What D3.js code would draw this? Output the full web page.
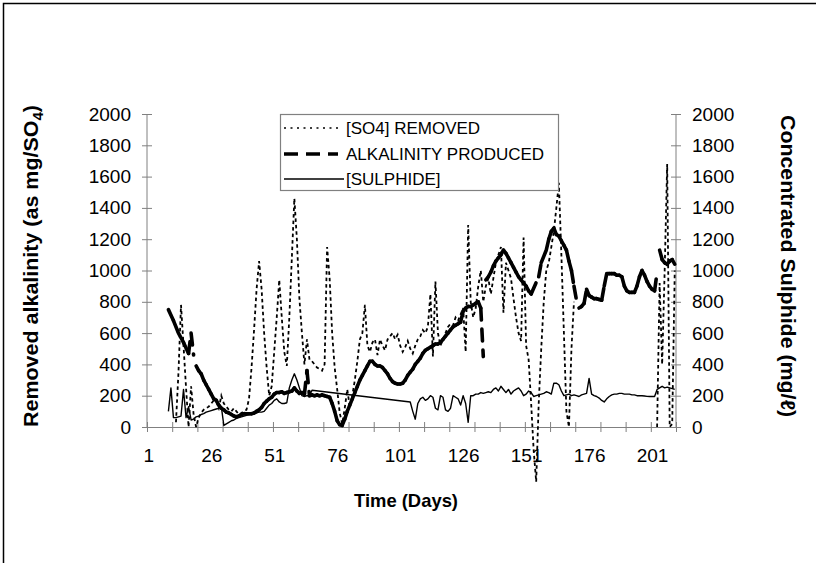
<!DOCTYPE html>
<html>
<head>
<meta charset="utf-8">
<script src="https://cdn.jsdelivr.net/npm/d3@7"></script>
<style>
  body { margin: 0; background: #fff; }
  svg { display: block; }
  text { font-family: "Liberation Sans", Arial, sans-serif; fill: #000; }
  .title { font-weight: bold; }
</style>
</head>
<body>
<svg width="816" height="563"></svg>
<script>
// data: [day, value], null = break in the line
const so4Removed = [
  [12, 30], [13, 350], [14, 780], [15, 520], [16, 250], [17, 0], [18, 260], [19, 80], [20, 0],
  [21, 60], [22, 90], [23, 110], [24, 120], [25, 130], [26, 150], [27, 170], [28, 160], [29, 120],
  [30, 200], [31, 150], [32, 130], [33, 110], [34, 100], [35, 120], [36, 100], [37, 80], [38, 90],
  [39, 100], [40, 110], [41, 180], [42, 380], [43, 620], [44, 880], [45, 1060], [46, 880], [47, 600],
  [48, 380], [49, 200], [50, 260], [51, 480], [52, 700], [53, 940], [54, 700], [55, 480], [56, 390],
  [57, 700], [58, 1080], [59, 1460], [60, 1200], [61, 820], [62, 600], [63, 400], [64, 560], [65, 430],
  [66, 420], [67, 400], [68, 380], [69, 370], [70, 360], [71, 400], [72, 1150], [73, 950], [74, 600],
  [75, 380], [76, 240], [77, 90], [78, 20], [79, 120], [80, 240], [81, 130], [82, 200], [83, 300],
  [84, 420], [85, 560], [86, 600], [87, 780], [88, 520], [89, 480], [90, 540], [91, 560], [92, 460],
  [93, 560], [94, 520], [95, 490], [96, 560], [97, 580], [98, 600], [99, 560], [100, 590], [101, 520],
  [102, 480], [103, 510], [104, 550], [105, 500], [106, 470], [107, 520], [108, 560], [109, 580],
  [110, 620], [111, 600], [112, 640], [113, 850], [114, 450], [115, 930], [116, 600], [117, 520],
  [118, 560], [119, 600], [120, 640], [121, 660], [122, 650], [123, 700], [124, 680], [125, 720],
  [126, 760], [127, 480], [128, 1290], [129, 800], [130, 700], [131, 760], [132, 900], [133, 1000],
  [134, 800], [135, 900], [136, 950], [137, 850], [138, 950], [139, 1050], [140, 1100], [141, 1150],
  [142, 730], [143, 1050], [144, 1000], [145, 950], [146, 820], [147, 700], [148, 600], [149, 550],
  [150, 1210], [151, 520], [152, 430], [153, 150], [154, -150], [155, -350], [156, 150], [157, 500],
  [158, 800], [159, 1000], [160, 1050], [161, 1150], [162, 1250], [163, 1400], [164, 1560], [165, 1100],
  [166, 600], [167, 100], [168, 0], [169, 500], [170, 800], null,
  [203, 0], [204, 920], [205, 400], [206, 1000], [207, 1680], [208, 0], [209, 20], [210, 1000]
];

const alkalinity = [
  [9, 750], [11, 680], [13, 600], [15, 540], [17, 470], [18, 600], [19, 460], null,
  [20, 390], [21, 360], [22, 340], [23, 300], [24, 270], [25, 240], [26, 210], [27, 180], [28, 170],
  [29, 140], [30, 120], [31, 110], [32, 95], [33, 90], [34, 80], [35, 70], [36, 65], [37, 70],
  [38, 80], [39, 85], [40, 85], [41, 85], [42, 85], [43, 90], [44, 100], [45, 110], [46, 125],
  [47, 150], [48, 165], [49, 180], [50, 190], [51, 210], [52, 220], [53, 220], [54, 225], [55, 215],
  [56, 220], [57, 225], [58, 230], [59, 250], [60, 230], [61, 215], [62, 220], [63, 210], [64, 360],
  [65, 200], [66, 205], [67, 200], [68, 205], [69, 200], [70, 205], [71, 200], [72, 195], [73, 190],
  [74, 150], [75, 100], [76, 40], [77, 15], [78, 10], [79, 50], [80, 100], [81, 140], [82, 180],
  [83, 220], [84, 260], [85, 300], [86, 330], [87, 360], [88, 390], [89, 420], [90, 420], [91, 400],
  [92, 390], [93, 390], [94, 380], [95, 360], [96, 340], [97, 310], [98, 290], [99, 280], [100, 275],
  [101, 275], [102, 280], [103, 300], [104, 330], [105, 350], [106, 370], [107, 400], [108, 420],
  [109, 440], [110, 470], [111, 490], [112, 500], [113, 510], [114, 520], [115, 530], [116, 530],
  [117, 540], [118, 560], [119, 580], [120, 600], [121, 620], [122, 640], [123, 650], [124, 660],
  [125, 670], [126, 740], [127, 760], [128, 770], [129, 770], [130, 780], [131, 790], [132, 800],
  [133, 760], [134, 450], null,
  [135, 940], [136, 960], [137, 990], [138, 1030], [139, 1060], [140, 1080], [141, 1100], [142, 1130],
  [143, 1110], [144, 1080], [145, 1050], [146, 1020], [147, 990], [148, 960], [149, 940], [150, 920],
  [151, 900], [152, 870], [153, 850], [156, 960], [157, 1050], [159, 1130], [160, 1200], [161, 1250],
  [162, 1270], [163, 1230], [164, 1220], [165, 1190], [166, 1160], [167, 1130], [168, 1060],
  [169, 1000], [170, 900], [171, 810], null,
  [172, 760], [173, 770], [174, 790], [175, 880], [176, 840], [177, 830], [178, 820], [179, 820],
  [180, 815], [181, 810], [182, 900], [183, 980], [184, 980], [185, 980], [186, 980], [187, 970],
  [188, 970], [189, 960], [190, 900], [191, 870], [192, 860], [193, 860], [194, 860], [195, 900],
  [196, 960], [197, 1000], [198, 970], [199, 930], [200, 900], [201, 880], [202, 870], [203, 990], null,
  [204, 1130], [205, 1070], [206, 1050], [207, 1040], [208, 1060], [209, 1070], [210, 1040]
];

const sulphide = [
  [9, 100], [10, 250], [11, 60], [12, 60], [13, 65], [14, 70], [15, 240], [16, 60], [17, 130],
  [18, 45], [19, 50], [20, 65], [21, 70], [22, 80], [23, 85], [24, 95], [25, 100], [26, 105],
  [27, 110], [28, 115], [29, 120], [30, 130], [31, 10], [32, 20], [33, 30], [34, 40], [35, 45],
  [36, 55], [37, 60], [38, 65], [39, 70], [40, 75], [41, 80], [42, 80], [43, 85], [44, 90], [45, 95],
  [46, 95], [47, 100], [48, 120], [49, 140], [50, 150], [51, 170], [52, 180], [53, 160], [54, 150],
  [55, 150], [56, 155], [57, 250], [58, 300], [59, 340], [60, 300], [61, 250], [62, 200], [63, 195],
  [64, 200], [65, 200], [66, 235], [105, 160], [106, 100], [107, 50], [108, 150], [109, 180],
  [110, 190], [111, 170], [112, 180], [113, 200], [114, 190], [115, 120], [116, 110], [117, 200],
  [118, 190], [119, 110], [120, 100], [121, 120], [122, 200], [123, 190], [124, 180], [125, 140],
  [126, 200], [127, 150], [128, 30], [129, 200], [130, 200], [131, 210], [132, 210], [133, 220],
  [134, 215], [135, 220], [136, 225], [137, 220], [138, 240], [139, 250], [140, 230], [141, 260],
  [142, 240], [143, 220], [144, 240], [145, 210], [146, 230], [147, 240], [148, 250], [149, 230],
  [150, 200], [151, 210], [152, 230], [153, 220], [154, 195], [155, 200], [156, 205], [157, 210],
  [158, 215], [159, 225], [160, 220], [161, 210], [162, 280], [163, 280], [164, 270], [165, 230],
  [166, 200], [167, 205], [168, 210], [169, 200], [170, 205], [171, 200], [172, 195], [173, 205],
  [174, 210], [175, 215], [176, 310], [177, 210], [178, 200], [179, 195], [180, 185], [181, 170],
  [182, 160], [183, 180], [184, 195], [185, 205], [186, 210], [187, 210], [188, 215], [189, 215],
  [190, 210], [191, 210], [192, 210], [193, 205], [194, 205], [195, 200], [196, 200], [197, 200],
  [198, 198], [199, 196], [200, 195], [201, 195], [202, 195], [203, 240], [204, 250], [205, 260],
  [206, 250], [207, 255], [208, 250], [209, 245], [210, 240]
];

const yTicks = [0, 200, 400, 600, 800, 1000, 1200, 1400, 1600, 1800, 2000];
const dayLabels = [1, 26, 51, 76, 101, 126, 151, 176, 201];
const dayTicks = d3.range(0.5, 211, 10);
const legendItems = ["[SO4] REMOVED", "ALKALINITY PRODUCED", "[SULPHIDE]"];

const svg = d3.select("svg");

// outer frame
svg.append("rect")
  .attr("x", 3.5).attr("y", 3.5)
  .attr("width", 1000).attr("height", 1000)
  .attr("fill", "none").attr("stroke", "#000").attr("stroke-width", 1.5);

const x = d3.scaleLinear().domain([0.5, 210.5]).range([147, 676]);
const yLeft = d3.scaleLinear().domain([0, 2000]).range([427, 114]);
const yRight = d3.scaleLinear().domain([0, 2000]).range([427, 114]);

const axisColor = "#808080";
const fmt = d3.format("d");

// left axis
const gl = svg.append("g").attr("transform", "translate(147,0)")
  .call(d3.axisLeft(yLeft).tickValues(yTicks).tickFormat(fmt).tickSize(5).tickPadding(11));
gl.selectAll(".tick line").attr("x1", -5).attr("x2", 5);
gl.selectAll(".tick text").attr("font-size", 19).attr("font-family", "Liberation Sans, Arial, sans-serif");

// right axis
const gr = svg.append("g").attr("transform", "translate(676,0)")
  .call(d3.axisRight(yRight).tickValues(yTicks).tickFormat(fmt).tickSize(5).tickPadding(11));
gr.selectAll(".tick line").attr("x1", -5).attr("x2", 5);
gr.selectAll(".tick text").attr("font-size", 19).attr("font-family", "Liberation Sans, Arial, sans-serif");

// bottom axis: marks every 10 days, labels every 25
const gb = svg.append("g").attr("transform", "translate(0,427)")
  .call(d3.axisBottom(x).tickValues(dayTicks).tickFormat("").tickSizeOuter(0));
gb.selectAll(".tick line").attr("y1", -5).attr("y2", 5);
const gbl = svg.append("g").attr("transform", "translate(0,427)")
  .call(d3.axisBottom(x).tickValues(dayLabels).tickSize(0).tickPadding(22).tickFormat(fmt));
gbl.select(".domain").remove();
gbl.selectAll(".tick text").attr("font-size", 19).attr("font-family", "Liberation Sans, Arial, sans-serif");

svg.selectAll(".domain, .tick line").attr("stroke", axisColor);
gl.select(".domain").attr("d", "M0,114V427");
gr.select(".domain").attr("d", "M0,114V427");

// series
const lineL = d3.line().defined(d => d !== null).x(d => x(d[0])).y(d => yLeft(d[1]));
const lineR = d3.line().defined(d => d !== null).x(d => x(d[0])).y(d => yRight(d[1]));

svg.append("path")
  .datum(sulphide)
  .attr("fill", "none").attr("stroke", "#000").attr("stroke-width", 1.4)
  .attr("stroke-linejoin", "round")
  .attr("d", lineR);

svg.append("path")
  .datum(so4Removed)
  .attr("fill", "none").attr("stroke", "#000").attr("stroke-width", 1.8)
  .attr("stroke-dasharray", "3.5,3")
  .attr("d", lineL);

// alkalinity: Excel restarts the dash on every segment
const alkSegments = [];
for (let i = 1; i < alkalinity.length; i++) {
  if (alkalinity[i - 1] && alkalinity[i]) alkSegments.push([alkalinity[i - 1], alkalinity[i]]);
}
svg.append("g").selectAll("line")
  .data(alkSegments)
  .enter()
  .append("line")
  .attr("x1", d => x(d[0][0])).attr("y1", d => yLeft(d[0][1]))
  .attr("x2", d => x(d[1][0])).attr("y2", d => yLeft(d[1][1]))
  .attr("stroke", "#000").attr("stroke-width", 3.6)
  .attr("stroke-linecap", "round")
  .attr("stroke-dasharray", "12,9");

// legend
const lg = svg.append("g");
lg.append("rect")
  .attr("x", 280.5).attr("y", 114.5).attr("width", 278).attr("height", 76)
  .attr("fill", "#fff").attr("stroke", "#808080").attr("stroke-width", 1.2);
const rowY = [128, 154, 179];
lg.append("line").attr("x1", 284).attr("x2", 338).attr("y1", rowY[0]).attr("y2", rowY[0])
  .attr("stroke", "#000").attr("stroke-width", 1.4).attr("stroke-dasharray", "2,4.5");
lg.append("line").attr("x1", 284).attr("x2", 338).attr("y1", rowY[1]).attr("y2", rowY[1])
  .attr("stroke", "#000").attr("stroke-width", 3.4).attr("stroke-dasharray", "14,8");
lg.append("line").attr("x1", 284).attr("x2", 344).attr("y1", rowY[2]).attr("y2", rowY[2])
  .attr("stroke", "#000").attr("stroke-width", 1.4);
lg.selectAll("text.leg")
  .data(legendItems)
  .enter()
  .append("text")
  .attr("class", "leg")
  .attr("x", 346)
  .attr("y", (d, i) => rowY[i] + 6)
  .attr("font-size", 17)
  .text(d => d);

// axis titles
const tl = svg.append("text")
  .attr("class", "title")
  .attr("transform", "translate(38,266) rotate(-90)")
  .attr("text-anchor", "middle")
  .attr("font-size", 20)
  .attr("textLength", 322)
  .attr("lengthAdjust", "spacingAndGlyphs");
tl.append("tspan").text("Removed alkalinity (as mg/SO");
tl.append("tspan").attr("font-size", 14).attr("dy", 5).text("4");
tl.append("tspan").attr("dy", -5).text(")");

svg.append("text")
  .attr("class", "title")
  .attr("transform", "translate(781,266) rotate(90)")
  .attr("text-anchor", "middle")
  .attr("font-size", 20)
  .attr("textLength", 302)
  .attr("lengthAdjust", "spacingAndGlyphs")
  .text("Concentrated Sulphide (mg/\u2113)");

svg.append("text")
  .attr("class", "title")
  .attr("x", 406).attr("y", 507)
  .attr("text-anchor", "middle")
  .attr("font-size", 19)
  .attr("textLength", 104)
  .attr("lengthAdjust", "spacingAndGlyphs")
  .text("Time (Days)");
</script>
</body>
</html>
